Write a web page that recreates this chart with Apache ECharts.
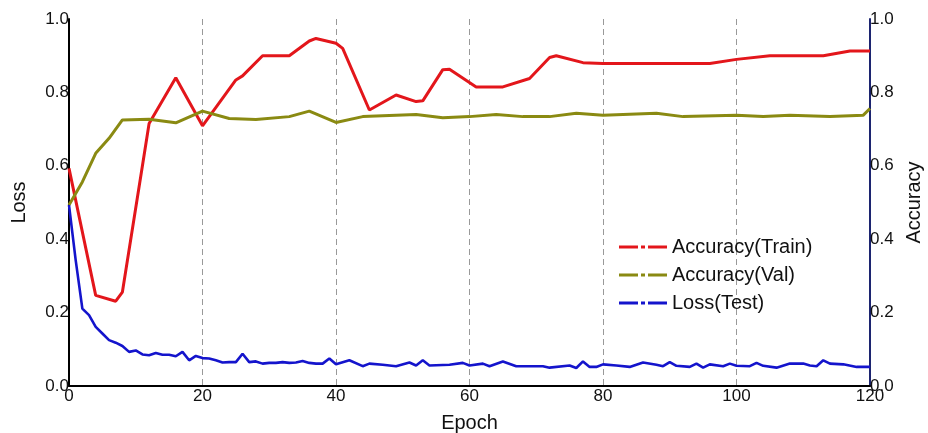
<!DOCTYPE html>
<html>
<head>
<meta charset="UTF-8">
<title>Loss / Accuracy</title>
<script src="https://cdn.jsdelivr.net/npm/echarts/dist/echarts.min.js"></script>
<style>
  html, body { margin: 0; padding: 0; background: #fff; }
  #main { width: 928px; height: 433px; }
</style>
</head>
<body>
<div id="main"></div>
<script>
// values
var trainEpochs = [0, 4, 7, 8, 11, 12, 16, 20, 25, 26, 29, 33, 36, 37, 40, 41, 45, 49, 52, 53, 56, 57, 61, 65, 69, 72, 73, 77, 80, 96, 100, 105, 113, 117, 120];
var trainAcc = [0.593, 0.247, 0.231, 0.256, 0.60, 0.715, 0.84, 0.709, 0.834, 0.845, 0.90, 0.90, 0.94, 0.947, 0.934, 0.92, 0.752, 0.793, 0.775, 0.777, 0.862, 0.863, 0.815, 0.815, 0.838, 0.895, 0.90, 0.881, 0.879, 0.879, 0.89, 0.90, 0.90, 0.913, 0.913];

var valEpochs = [0, 2, 4, 6, 8, 12, 16, 20, 24, 28, 33, 36, 40, 44, 52, 56, 60, 64, 68, 72, 76, 80, 88, 92, 100, 104, 108, 114, 119, 120];
var valAcc = [0.493, 0.556, 0.634, 0.675, 0.725, 0.727, 0.717, 0.749, 0.729, 0.726, 0.734, 0.749, 0.718, 0.734, 0.74, 0.731, 0.734, 0.74, 0.734, 0.734, 0.743, 0.738, 0.743, 0.734, 0.738, 0.734, 0.738, 0.734, 0.738, 0.756];

var lossEpochs = [0, 1, 2, 3, 4, 5, 6, 7, 8, 9, 10, 11, 12, 13, 14, 15, 16, 17, 18, 19, 20, 21, 22, 23, 24, 25, 26, 27, 28, 29, 30, 31, 32, 33, 34, 35, 36, 37, 38, 39, 40, 42, 44, 45, 47, 49, 51, 52, 53, 54, 57, 59, 60, 62, 63, 65, 67, 71, 72, 75, 76, 77, 78, 79, 80, 82, 84, 86, 88, 89, 90, 91, 93, 94, 95, 96, 98, 99, 100, 102, 103, 104, 106, 108, 110, 111, 112, 113, 114, 116, 118, 120];
var lossTest = [0.493, 0.343, 0.211, 0.193, 0.161, 0.143, 0.125, 0.118, 0.109, 0.093, 0.097, 0.086, 0.084, 0.09, 0.085, 0.085, 0.081, 0.093, 0.07, 0.082, 0.076, 0.075, 0.07, 0.064, 0.065, 0.065, 0.088, 0.065, 0.067, 0.061, 0.063, 0.063, 0.065, 0.063, 0.064, 0.068, 0.063, 0.061, 0.061, 0.075, 0.059, 0.07, 0.054, 0.061, 0.058, 0.054, 0.064, 0.056, 0.07, 0.056, 0.058, 0.063, 0.056, 0.061, 0.054, 0.067, 0.054, 0.054, 0.05, 0.056, 0.049, 0.067, 0.052, 0.052, 0.059, 0.056, 0.052, 0.064, 0.058, 0.054, 0.065, 0.055, 0.052, 0.061, 0.05, 0.059, 0.054, 0.061, 0.055, 0.054, 0.063, 0.055, 0.05, 0.061, 0.061, 0.056, 0.054, 0.07, 0.061, 0.059, 0.052, 0.052];

var seriesNames = ['Accuracy(Train)', 'Accuracy(Val)', 'Loss(Test)'];
var colors = ['#e3161b', '#8a8a12', '#1414cc'];

function pairs(xs, ys) {
  return xs.map(function (x, i) { return [x, ys[i]]; });
}

var font = 'Liberation Sans, Arial, sans-serif';
var labelStyle = { fontFamily: font, fontSize: 17, color: '#111' };
var nameStyle = { fontFamily: font, fontSize: 20, color: '#111' };

// dash-dot legend mark: dash, dot, dash
var dashDot = 'path://M0,0H19V3H0Z M22,0H26V3H22Z M29,0H48V3H29Z';

var chart = echarts.init(document.getElementById('main'));

var option = {
  animation: false,
  backgroundColor: '#fff',
  color: colors,
  grid: { left: 69, right: 58, top: 19, bottom: 47, outerBoundsMode: 'none' },
  legend: {
    orient: 'vertical',
    left: 619,
    top: 236,
    padding: 0,
    itemWidth: 48,
    itemHeight: 3,
    itemGap: 6,
    icon: dashDot,
    textStyle: { fontFamily: font, fontSize: 20, lineHeight: 22, color: '#111' },
    data: seriesNames
  },
  xAxis: {
    type: 'value',
    min: 0,
    max: 120,
    interval: 20,
    name: 'Epoch',
    nameLocation: 'middle',
    nameGap: 27,
    nameTextStyle: nameStyle,
    axisLine: { lineStyle: { color: '#000', width: 2 } },
    axisTick: { show: false },
    axisLabel: Object.assign({ margin: 2 }, labelStyle),
    splitLine: { show: true, lineStyle: { color: '#999', type: [6, 4], width: 1 } }
  },
  yAxis: [{
    type: 'value',
    min: 0,
    max: 1,
    interval: 0.2,
    name: 'Loss',
    nameLocation: 'middle',
    nameRotate: 90,
    nameGap: 40,
    nameTextStyle: nameStyle,
    axisLine: { show: true, lineStyle: { color: '#000', width: 2 } },
    axisTick: { show: false },
    axisLabel: Object.assign({ margin: 0, formatter: function (v) { return v.toFixed(1); } }, labelStyle),
    splitLine: { show: false }
  }, {
    type: 'value',
    min: 0,
    max: 1,
    interval: 0.2,
    position: 'right',
    name: 'Accuracy',
    nameLocation: 'middle',
    nameRotate: 90,
    nameGap: 19,
    nameTextStyle: nameStyle,
    axisLine: { show: true, lineStyle: { color: '#1c2470', width: 2 } },
    axisTick: { show: false },
    axisLabel: Object.assign({ margin: 0, formatter: function (v) { return v.toFixed(1); } }, labelStyle),
    splitLine: { show: false }
  }],
  series: [{
    name: seriesNames[0],
    type: 'line',
    yAxisIndex: 1,
    symbol: 'none',
    lineStyle: { width: 3, color: colors[0] },
    data: pairs(trainEpochs, trainAcc)
  }, {
    name: seriesNames[1],
    type: 'line',
    yAxisIndex: 1,
    symbol: 'none',
    lineStyle: { width: 3, color: colors[1] },
    data: pairs(valEpochs, valAcc)
  }, {
    name: seriesNames[2],
    type: 'line',
    yAxisIndex: 0,
    symbol: 'none',
    lineStyle: { width: 2.6, color: colors[2] },
    data: pairs(lossEpochs, lossTest)
  }]
};

chart.setOption(option);
</script>
</body>
</html>
